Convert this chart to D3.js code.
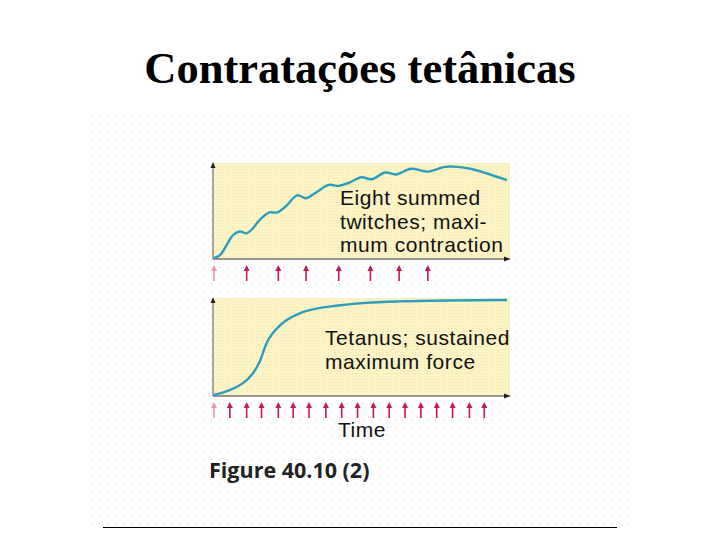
<!DOCTYPE html>
<html>
<head>
<meta charset="utf-8">
<script src="https://cdn.jsdelivr.net/npm/d3@7"></script>
<style>
  body { margin: 0; background: #fff; }
  svg { display: block; }
</style>
</head>
<body>
<svg id="chart" width="720" height="540"></svg>
<script>
// stimulus times (axis runs 0..300)
var twitchStimuli = [1, 34, 66, 94, 127, 159, 188, 217];
var tetanusStimuli = [1, 17, 34, 49, 66, 81, 97, 114, 130, 146, 162, 178, 194, 210, 226, 242, 259, 274];

// force curves (force 0..100)
var twitchTime  = [1, 7, 14, 20, 27, 34, 40, 47, 57, 65, 74, 85, 94, 104, 117, 127, 137, 150, 160, 174, 185, 200, 217, 234, 247, 260, 277, 297];
var twitchForce = [1, 4, 15, 25, 29, 27, 32, 41, 49, 49, 56, 67, 64, 70, 78, 77, 80, 86, 84, 91, 89, 95, 92, 97, 97, 95, 90, 83];

var tetanusTime  = [1, 17, 30, 40, 47, 52, 57, 64, 74, 87, 104, 124, 154, 187, 237, 297];
var tetanusForce = [1, 6, 13, 23, 35, 49, 60, 69, 78, 85, 90, 93, 96, 97.5, 98.5, 99];

var twitchLabel = ["Eight summed", "twitches; maxi-", "mum contraction"];
var tetanusLabel = ["Tetanus; sustained", "maximum force"];

var svg = d3.select("#chart");

// faint dotted paper background
var defs = svg.append("defs");
defs.append("pattern")
  .attr("id", "dots").attr("width", 8).attr("height", 8)
  .attr("patternUnits", "userSpaceOnUse")
  .append("rect").attr("x", 3).attr("y", 3).attr("width", 1).attr("height", 1)
  .attr("fill", "#d4d4d4");
defs.append("pattern")
  .attr("id", "paneldots").attr("width", 3).attr("height", 3)
  .attr("patternUnits", "userSpaceOnUse")
  .append("rect").attr("x", 1).attr("y", 1).attr("width", 1).attr("height", 1)
  .attr("fill", "#e8dca8");

svg.append("rect").attr("x", 88).attr("y", 112).attr("width", 544).attr("height", 412)
  .attr("fill", "url(#dots)");

// title
svg.append("text")
  .attr("x", 360).attr("y", 83)
  .attr("text-anchor", "middle")
  .style("font-family", "'Liberation Serif', 'Times New Roman', serif")
  .style("font-size", "44.5px")
  .style("font-weight", "bold")
  .text("Contratações tetânicas");

var xScale = d3.scaleLinear().domain([0, 300]).range([213, 510]);

function panel(top, bottom, times, forces, stimuli, label, labelX, labelY) {
  var yScale = d3.scaleLinear().domain([0, 100]).range([bottom, top]);
  var g = svg.append("g");

  g.append("rect")
    .attr("x", xScale(0)).attr("y", yScale(100) - 1)
    .attr("width", xScale(300) - xScale(0)).attr("height", yScale(0) - yScale(100) + 1)
    .attr("fill", "#fdf4c6");
  g.append("rect")
    .attr("x", xScale(0)).attr("y", yScale(100) - 1)
    .attr("width", xScale(300) - xScale(0)).attr("height", yScale(0) - yScale(100) + 1)
    .attr("fill", "url(#paneldots)").attr("opacity", 0.6);

  // axes
  g.append("line").attr("x1", xScale(0)).attr("x2", xScale(0))
    .attr("y1", yScale(0)).attr("y2", yScale(100) + 2)
    .attr("stroke", "#555").attr("stroke-width", 1);
  g.append("path")
    .attr("d", "M" + xScale(0) + "," + (yScale(100) - 2) + "l-2.5,6h5z")
    .attr("fill", "#222");
  g.append("line").attr("x1", xScale(0)).attr("x2", xScale(300) - 4)
    .attr("y1", yScale(0)).attr("y2", yScale(0))
    .attr("stroke", "#333").attr("stroke-width", 1.2);
  g.append("path")
    .attr("d", "M" + (xScale(300) + 1) + "," + yScale(0) + "l-7,-2.5v5z")
    .attr("fill", "#222");

  // force curve
  var pts = times.map(function(t, i) { return [t, forces[i]]; });
  var line = d3.line()
    .x(function(d) { return xScale(d[0]); })
    .y(function(d) { return yScale(d[1]); })
    .curve(d3.curveCatmullRom);
  g.append("path").datum(pts)
    .attr("d", line)
    .attr("fill", "none")
    .attr("stroke", "#2d9cbd")
    .attr("stroke-width", 2.4);

  // stimulus arrows
  var arrows = g.selectAll(".stim").data(stimuli).enter().append("g")
    .attr("class", "stim")
    .attr("transform", function(d) { return "translate(" + xScale(d) + "," + (yScale(0) + 6) + ")"; })
    .attr("opacity", function(d, i) { return i === 0 ? 0.45 : 1; });
  arrows.append("line").attr("x1", 0).attr("x2", 0).attr("y1", 4).attr("y2", 16)
    .attr("stroke", "#c41d4d").attr("stroke-width", 1.6);
  arrows.append("path").attr("d", "M0,0l-3,6h6z").attr("fill", "#c41d4d");

  // label, one text per line
  label.forEach(function(s, i) {
    g.append("text")
      .attr("x", labelX).attr("y", labelY + i * 23.5)
      .style("font-family", "'Liberation Sans', Arial, sans-serif")
      .style("font-size", "21px")
      .style("letter-spacing", "0.55px")
      .style("fill", "#111")
      .text(s);
  });
}

panel(164, 259, twitchTime, twitchForce, twitchStimuli, twitchLabel, 340, 205);
panel(299, 396, tetanusTime, tetanusForce, tetanusStimuli, tetanusLabel, 325, 345);

svg.append("text")
  .attr("x", 362).attr("y", 437)
  .attr("text-anchor", "middle")
  .style("font-family", "'Liberation Sans', Arial, sans-serif")
  .style("font-size", "21px")
  .style("letter-spacing", "0.55px")
  .style("fill", "#111")
  .text("Time");

svg.append("text")
  .attr("x", 209).attr("y", 478)
  .style("font-family", "'Open Sans', sans-serif")
  .style("font-size", "21.5px")
  .style("font-weight", "bold")
  .style("fill", "#222")
  .text("Figure 40.10 (2)");

svg.append("line")
  .attr("x1", 103).attr("x2", 617).attr("y1", 527.5).attr("y2", 527.5)
  .attr("stroke", "#000").attr("stroke-width", 1);
</script>
</body>
</html>
